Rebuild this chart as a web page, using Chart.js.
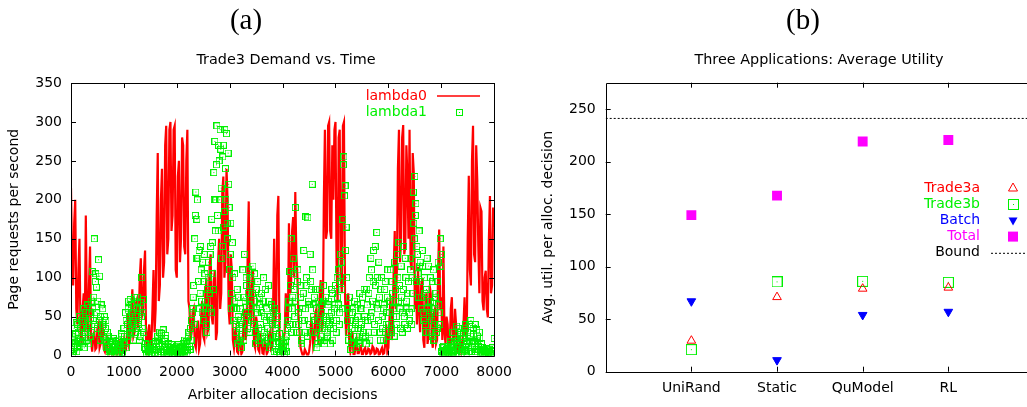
<!DOCTYPE html>
<html>
<head>
<meta charset="utf-8">
<script src="https://cdn.jsdelivr.net/npm/chart.js@4.4.0/dist/chart.umd.min.js"></script>
<style>
  html, body { margin: 0; padding: 0; background: #fff; overflow: hidden; }
  #page { position: relative; width: 1027px; height: 407px; overflow: hidden; font-family: "DejaVu Sans", sans-serif; }
  canvas { position: absolute; top: 0; }
  .panel { position: absolute; font-family: "Liberation Serif", serif; font-size: 29px; transform: translate(-50%, -50%); }
  .title { position: absolute; font-size: 14.4px; transform: translate(-50%, -50%); white-space: nowrap; }
</style>
</head>
<body>
<div id="page">
  <canvas id="demandChart" width="520" height="407" style="left:0"></canvas>
  <canvas id="utilChart" width="530" height="407" style="left:520px"></canvas>
  <div class="panel" style="left:246px; top:19px">(a)</div>
  <div class="panel" style="left:803px; top:19px">(b)</div>
  <div class="title" style="left:286px; top:59px">Trade3 Demand vs. Time</div>
  <div class="title" style="left:819px; top:59px">Three Applications: Average Utility</div>
</div>
<script>
// ---- panel (a): demand trace ----
// lambda0 sampled every 40 decisions, lambda0Mid sits halfway between
const lambda0Step = 40;
const lambda0 = [
  215, 90, 200, 40, 150, 15, 80, 180, 20, 140,
  5, 30, 10, 40, 15, 35, 5, 20, 2, 10,
  3, 12, 2, 15, 5, 20, 8, 55, 20, 85,
  30, 70, 45, 125, 55, 135, 10, 40, 15, 110,
  60, 260, 90, 240, 120, 295, 150, 300, 180, 295,
  100, 250, 150, 270, 130, 290, 60, 30, 60, 10,
  45, 15, 70, 20, 100, 35, 130, 40, 110, 30,
  150, 80, 230, 120, 200, 40, 110, 10, 35, 3,
  20, 5, 60, 30, 198, 45, 110, 10, 40, 5,
  20, 2, 15, 5, 30, 10, 150, 60, 205, 15,
  5, 30, 60, 170, 90, 178, 210, 100, 30, 5,
  1, 5, 0, 15, 40, 15, 60, 20, 97, 40,
  290, 160, 300, 150, 200, 300, 70, 290, 80, 300,
  25, 80, 5, 30, 2, 20, 3, 12, 2, 10,
  3, 8, 4, 10, 3, 8, 2, 10, 3, 40,
  10, 75, 30, 160, 110, 290, 150, 296, 140, 230,
  290, 110, 235, 100, 114, 30, 100, 10, 80, 25,
  80, 10, 60, 20, 162, 75, 140, 15, 40, 10,
  75, 15, 40, 5, 20, 8, 75, 20, 231, 90,
  295, 120, 226, 80, 185, 58, 109, 49, 205, 90,
  165
];
const lambda0Mid = [
  120, 170, 60, 110, 30, 60, 30, 60, 90, 20,
  25, 8, 35, 10, 45, 8, 15, 3, 8, 1,
  10, 1, 8, 3, 12, 5, 30, 15, 60, 25,
  65, 35, 100, 50, 110, 20, 30, 5, 60, 30,
  180, 70, 200, 100, 270, 130, 290, 160, 290, 110,
  230, 120, 280, 140, 250, 70, 20, 55, 15, 35,
  8, 50, 25, 80, 30, 115, 50, 95, 20, 120,
  60, 210, 100, 240, 60, 130, 20, 30, 5, 25,
  2, 40, 20, 130, 50, 90, 15, 50, 8, 25,
  3, 18, 2, 25, 8, 60, 40, 180, 30, 3,
  20, 80, 40, 80, 160, 100, 130, 50, 10, 0,
  8, 1, 5, 45, 10, 55, 25, 75, 30, 200,
  150, 295, 160, 270, 290, 120, 280, 100, 295, 80,
  60, 15, 20, 2, 12, 3, 10, 2, 8, 2,
  9, 2, 12, 2, 9, 1, 7, 2, 15, 5,
  45, 20, 110, 60, 240, 120, 280, 130, 270, 150,
  120, 260, 60, 40, 60, 90, 20, 70, 15, 90,
  20, 55, 15, 110, 60, 20, 30, 50, 5, 60,
  20, 60, 5, 15, 3, 40, 30, 150, 110, 250,
  130, 270, 140, 190, 70, 100, 60, 150, 80, 190
];
// lambda1 sampled every 20 decisions, lambda1Mid sits halfway between
const lambda1Step = 20;
const lambda1 = [
  8, 25, 5, 35, 15, 42, 10, 30, 50, 20,
  45, 15, 60, 30, 55, 20, 65, 40, 25, 70,
  108, 45, 150, 95, 88, 35, 123, 102, 50, 30,
  60, 40, 20, 45, 10, 25, 5, 18, 3, 12,
  22, 6, 15, 2, 10, 20, 4, 14, 28, 8,
  35, 15, 45, 25, 60, 30, 72, 40, 55, 20,
  75, 50, 35, 70, 45, 60, 25, 100, 55, 30,
  15, 3, 10, 1, 6, 12, 2, 8, 15, 4,
  18, 8, 25, 12, 30, 5, 20, 33, 10, 22,
  3, 12, 1, 8, 4, 14, 2, 9, 1, 6,
  12, 2, 7, 0, 10, 4, 15, 3, 8, 18,
  6, 25, 12, 35, 45, 60, 90, 150, 210, 175,
  125, 135, 80, 110, 55, 95, 130, 70, 40, 85,
  120, 60, 140, 175, 105, 235, 275, 200, 295, 160,
  250, 290, 215, 140, 270, 185, 240, 285, 150, 220,
  110, 170, 80, 100, 45, 70, 30, 85, 50, 20,
  60, 10, 40, 75, 130, 55, 90, 35, 110, 65,
  100, 45, 115, 70, 30, 85, 55, 20, 65, 40,
  80, 25, 100, 50, 15, 60, 35, 70, 10, 45,
  25, 55, 5, 35, 15, 50, 8, 28, 3, 12,
  5, 15, 2, 10, 25, 45, 70, 108, 150, 60,
  125, 85, 190, 40, 95, 55, 30, 75, 20, 60,
  135, 45, 178, 90, 177, 65, 130, 85, 220, 50,
  75, 30, 60, 15, 45, 85, 25, 55, 35, 70,
  20, 50, 30, 65, 40, 15, 55, 80, 35, 60,
  90, 45, 75, 110, 55, 130, 85, 175, 255, 218,
  165, 60, 30, 75, 45, 15, 55, 25, 70, 40,
  10, 50, 20, 80, 35, 60, 25, 85, 45, 15,
  65, 30, 100, 50, 110, 70, 135, 40, 90, 158,
  60, 120, 30, 85, 50, 20, 65, 95, 40, 75,
  25, 55, 110, 35, 80, 50, 120, 70, 40, 100,
  145, 60, 115, 30, 85, 50, 125, 70, 35, 95,
  55, 110, 40, 80, 170, 230, 195, 140, 105, 160,
  120, 75, 135, 55, 100, 40, 85, 60, 115, 30,
  70, 45, 95, 20, 60, 80, 35, 120, 55, 150,
  130, 10, 3, 6, 1, 8, 2, 12, 4, 18,
  5, 30, 10, 22, 3, 15, 35, 8, 25, 2,
  12, 28, 6, 40, 15, 30, 5, 20, 45, 10,
  35, 18, 40, 8, 25, 12, 30, 4, 15, 2,
  8, 1, 5, 3, 7, 1, 4, 2, 6, 3,
  22
];
const lambda1Mid = [
  15, 3, 20, 10, 28, 5, 40, 18, 12, 35,
  25, 50, 10, 45, 35, 65, 15, 55, 48, 30,
  60, 75, 40, 105, 55, 70, 45, 20, 65, 40,
  25, 50, 35, 15, 30, 12, 8, 2, 20, 6,
  12, 3, 18, 8, 2, 14, 6, 25, 4, 18,
  25, 55, 10, 40, 70, 50, 28, 65, 35, 45,
  30, 60, 75, 40, 20, 68, 50, 35, 72, 10,
  8, 1, 14, 5, 3, 9, 0, 12, 6, 2,
  12, 20, 3, 15, 8, 28, 14, 4, 18, 26,
  7, 2, 15, 5, 10, 0, 6, 11, 3, 8,
  4, 14, 1, 9, 5, 12, 0, 20, 10, 3,
  15, 30, 8, 20, 55, 75, 40, 180, 125, 200,
  95, 60, 140, 70, 120, 45, 105, 60, 30, 100,
  80, 130, 55, 145, 85, 200, 160, 245, 180, 270,
  200, 265, 125, 255, 165, 290, 200, 170, 260, 190,
  130, 60, 145, 60, 105, 40, 60, 15, 75, 35,
  45, 25, 110, 20, 70, 100, 50, 80, 30, 90,
  55, 80, 40, 105, 15, 60, 95, 35, 75, 25,
  55, 70, 30, 85, 45, 20, 90, 50, 25, 65,
  40, 15, 60, 25, 5, 40, 18, 2, 20, 6,
  10, 1, 20, 5, 35, 60, 40, 90, 30, 75,
  105, 50, 70, 30, 110, 40, 90, 15, 45, 80,
  30, 60, 100, 25, 70, 40, 95, 30, 110, 65,
  45, 85, 10, 70, 35, 20, 65, 40, 90, 15,
  75, 45, 25, 70, 50, 35, 85, 20, 45, 65,
  30, 100, 65, 40, 95, 120, 60, 245, 205, 135,
  100, 45, 20, 55, 8, 35, 60, 15, 45, 25,
  65, 35, 15, 60, 40, 75, 30, 50, 25, 85,
  45, 80, 20, 125, 55, 95, 30, 140, 65, 100,
  45, 75, 20, 100, 35, 60, 85, 30, 55, 110,
  40, 70, 30, 95, 60, 25, 85, 50, 130, 70,
  90, 35, 75, 55, 140, 40, 100, 60, 80, 45,
  125, 60, 100, 210, 150, 180, 95, 130, 75, 115,
  95, 60, 115, 45, 80, 30, 125, 70, 50, 100,
  55, 25, 110, 40, 75, 30, 95, 65, 40, 115,
  5, 0, 12, 4, 2, 9, 1, 6, 14, 3,
  12, 4, 18, 7, 38, 20, 2, 10, 30, 5,
  22, 8, 35, 3, 18, 10, 40, 25, 5, 15,
  28, 12, 5, 33, 20, 8, 22, 6, 10, 3,
  6, 2, 9, 4, 1, 8, 3, 5, 10, 2
];
const demandTicksX = [0, 1000, 2000, 3000, 4000, 5000, 6000, 7000, 8000];
const demandTicksY = [0, 50, 100, 150, 200, 250, 300, 350];

// ---- panel (b): average utility ----
const methods = ["UniRand", "Static", "QuModel", "RL"];
const trade3a = [29.5, 71, 79, 80];
const trade3b = [21, 85.5, 86, 85];
const batch = [67, 11, 54, 57];
const total = [149, 167.5, 219, 220.5];
const bound = 241;
const utilTicksY = [0, 50, 100, 150, 200, 250];

const RED = "#ff0000", GREEN = "#00f000", BLUE = "#0000ff", MAGENTA = "#ff00ff";

Chart.defaults.font.family = "DejaVu Sans";
Chart.defaults.font.size = 14;
Chart.defaults.color = "#000";
Chart.defaults.animation = false;

// open square with a dot in the middle, gnuplot style
function boxMarker(size, color) {
  const c = document.createElement("canvas");
  c.width = c.height = size;
  const g = c.getContext("2d");
  g.strokeStyle = color;
  g.lineWidth = 1;
  g.strokeRect(0.5, 0.5, size - 1, size - 1);
  g.fillStyle = color;
  g.fillRect(Math.floor(size / 2), Math.floor(size / 2), 1, 1);
  return c;
}
const smallBox = boxMarker(7, GREEN);
const bigBox = boxMarker(11, GREEN);

// interleave a sampled series with its half-step companion
function trace(main, mid, step) {
  const pts = [];
  main.forEach((v, i) => {
    pts.push({ x: i * step, y: v });
    if (i < mid.length) pts.push({ x: i * step + step / 2, y: mid[i] });
  });
  return pts;
}

// border box plus inward ticks on every side
const frame = {
  id: "frame",
  afterDraw(chart) {
    const { ctx, chartArea: a, scales } = chart;
    const tl = 5;
    ctx.save();
    ctx.strokeStyle = "#000";
    ctx.lineWidth = 1;
    ctx.beginPath();
    ctx.rect(Math.round(a.left) + 0.5, Math.round(a.top) + 0.5, Math.round(a.right - a.left), Math.round(a.bottom - a.top));
    scales.x.ticks.forEach(t => {
      const px = Math.round(scales.x.getPixelForValue(t.value)) + 0.5;
      ctx.moveTo(px, a.bottom); ctx.lineTo(px, a.bottom - tl);
      ctx.moveTo(px, a.top); ctx.lineTo(px, a.top + tl);
    });
    scales.y.ticks.forEach(t => {
      const py = Math.round(scales.y.getPixelForValue(t.value)) + 0.5;
      ctx.moveTo(a.left, py); ctx.lineTo(a.left + tl, py);
      ctx.moveTo(a.right, py); ctx.lineTo(a.right - tl, py);
    });
    ctx.stroke();
    ctx.restore();
  }
};

// key drawn inside the plot, text right-aligned before the sample
const keyBox = {
  id: "keyBox",
  afterDraw(chart, args, opts) {
    const ctx = chart.ctx;
    ctx.save();
    ctx.font = "14px 'DejaVu Sans'";
    ctx.textAlign = "right";
    ctx.textBaseline = "middle";
    opts.items.forEach((it, i) => {
      const y = opts.y + i * opts.gap;
      ctx.fillStyle = it.color;
      ctx.fillText(it.text, opts.textX, y);
      const mx = opts.markX;
      ctx.strokeStyle = it.color;
      ctx.fillStyle = it.color;
      ctx.lineWidth = 1;
      if (it.kind === "line") {
        ctx.beginPath(); ctx.moveTo(opts.lineX0, y); ctx.lineTo(opts.lineX1, y);
        ctx.lineWidth = 1.5; ctx.stroke();
      } else if (it.kind === "dots") {
        ctx.beginPath(); ctx.setLineDash([2, 2]);
        ctx.moveTo(opts.lineX0, y + 0.5); ctx.lineTo(opts.lineX1, y + 0.5); ctx.stroke();
        ctx.setLineDash([]);
      } else if (it.kind === "image") {
        ctx.drawImage(it.image, Math.round(mx - it.image.width / 2), Math.round(y - it.image.height / 2));
      } else if (it.kind === "tri") {
        ctx.beginPath(); ctx.moveTo(mx, y - 5); ctx.lineTo(mx + 4.5, y + 3); ctx.lineTo(mx - 4.5, y + 3); ctx.closePath(); ctx.stroke();
      } else if (it.kind === "tridown") {
        ctx.beginPath(); ctx.moveTo(mx, y + 5); ctx.lineTo(mx + 4.5, y - 3); ctx.lineTo(mx - 4.5, y - 3); ctx.closePath(); ctx.fill();
      } else if (it.kind === "square") {
        ctx.fillRect(mx - 5, y - 5, 10, 10);
      }
    });
    ctx.restore();
  }
};

const scaleFont = { family: "DejaVu Sans", size: 14 };

new Chart(document.getElementById("demandChart"), {
  type: "scatter",
  data: {
    datasets: [
      {
        label: "lambda0",
        type: "line",
        data: trace(lambda0, lambda0Mid, lambda0Step),
        borderColor: RED,
        borderWidth: 2.2,
        pointRadius: 0,
        tension: 0,
        order: 2
      },
      {
        label: "lambda1",
        data: trace(lambda1, lambda1Mid, lambda1Step),
        pointStyle: smallBox,
        borderColor: GREEN,
        order: 1
      }
    ]
  },
  options: {
    responsive: false,
    devicePixelRatio: 1,
    layout: { padding: { top: 83, right: 20, left: 0, bottom: 0 } },
    plugins: {
      legend: { display: false },
      tooltip: { enabled: false },
      keyBox: {
        textX: 427, markX: 459, lineX0: 437, lineX1: 480, y: 96, gap: 16,
        items: [
          { text: "lambda0", color: RED, kind: "line" },
          { text: "lambda1", color: GREEN, kind: "image", image: smallBox }
        ]
      }
    },
    scales: {
      x: {
        type: "linear", min: 0, max: 8000,
        afterBuildTicks: s => { s.ticks = demandTicksX.map(v => ({ value: v })); },
        afterFit: s => { s.height = 51.4; },
        grid: { display: false, drawTicks: false },
        border: { display: false },
        ticks: { font: scaleFont, padding: 8, maxRotation: 0, callback: v => String(v) },
        title: { display: true, text: "Arbiter allocation decisions", font: scaleFont, padding: { top: 0, bottom: 3 } }
      },
      y: {
        min: 0, max: 350,
        afterBuildTicks: s => { s.ticks = demandTicksY.map(v => ({ value: v })); },
        afterFit: s => { s.width = 71; },
        grid: { display: false, drawTicks: false },
        border: { display: false },
        ticks: { font: scaleFont, padding: 9 },
        title: { display: true, text: "Page requests per second", font: scaleFont, padding: { top: 6, bottom: 0 } }
      }
    }
  },
  plugins: [frame, keyBox]
});

new Chart(document.getElementById("utilChart"), {
  type: "scatter",
  data: {
    datasets: [
      {
        label: "Trade3a",
        data: trade3a.map((v, i) => ({ x: i + 1, y: v })),
        pointStyle: "triangle", pointRadius: 5, borderWidth: 1,
        borderColor: RED, backgroundColor: "rgba(0,0,0,0)"
      },
      {
        label: "Trade3b",
        data: trade3b.map((v, i) => ({ x: i + 1, y: v })),
        pointStyle: bigBox, borderColor: GREEN
      },
      {
        label: "Batch",
        data: batch.map((v, i) => ({ x: i + 1, y: v })),
        pointStyle: "triangle", rotation: 180, pointRadius: 5, borderWidth: 1,
        borderColor: BLUE, backgroundColor: BLUE
      },
      {
        label: "Total",
        data: total.map((v, i) => ({ x: i + 1, y: v })),
        pointStyle: "rect", pointRadius: 7, borderWidth: 0,
        borderColor: MAGENTA, backgroundColor: MAGENTA
      },
      {
        label: "Bound",
        type: "line",
        data: [{ x: 0, y: bound }, { x: methods.length + 1, y: bound }],
        borderColor: "#000", borderWidth: 1, borderDash: [2, 2],
        pointRadius: 0
      }
    ]
  },
  options: {
    responsive: false,
    devicePixelRatio: 1,
    layout: { padding: { top: 82.7, right: 16, left: 0, bottom: 0 } },
    plugins: {
      legend: { display: false },
      tooltip: { enabled: false },
      keyBox: {
        textX: 460, markX: 493, lineX0: 471, lineX1: 510, y: 188, gap: 16.2,
        items: [
          { text: "Trade3a", color: RED, kind: "tri" },
          { text: "Trade3b", color: GREEN, kind: "image", image: bigBox },
          { text: "Batch", color: BLUE, kind: "tridown" },
          { text: "Total", color: MAGENTA, kind: "square" },
          { text: "Bound", color: "#000", kind: "dots" }
        ]
      }
    },
    scales: {
      x: {
        type: "linear", min: 0, max: methods.length + 1,
        afterBuildTicks: s => { s.ticks = methods.map((m, i) => ({ value: i + 1 })); },
        afterFit: s => { s.height = 35.3; },
        grid: { display: false, drawTicks: false },
        border: { display: false },
        ticks: { font: scaleFont, padding: 8, maxRotation: 0, callback: v => methods[v - 1] }
      },
      y: {
        min: 0, max: 275,
        afterBuildTicks: s => { s.ticks = utilTicksY.map(v => ({ value: v })); },
        afterFit: s => { s.width = 85.7; },
        grid: { display: false, drawTicks: false },
        border: { display: false },
        ticks: { font: scaleFont, padding: 10 },
        title: { display: true, text: "Avg. util. per alloc. decision", font: scaleFont, padding: { top: 20, bottom: 0 } }
      }
    }
  },
  plugins: [frame, keyBox]
});
</script>
</body>
</html>
